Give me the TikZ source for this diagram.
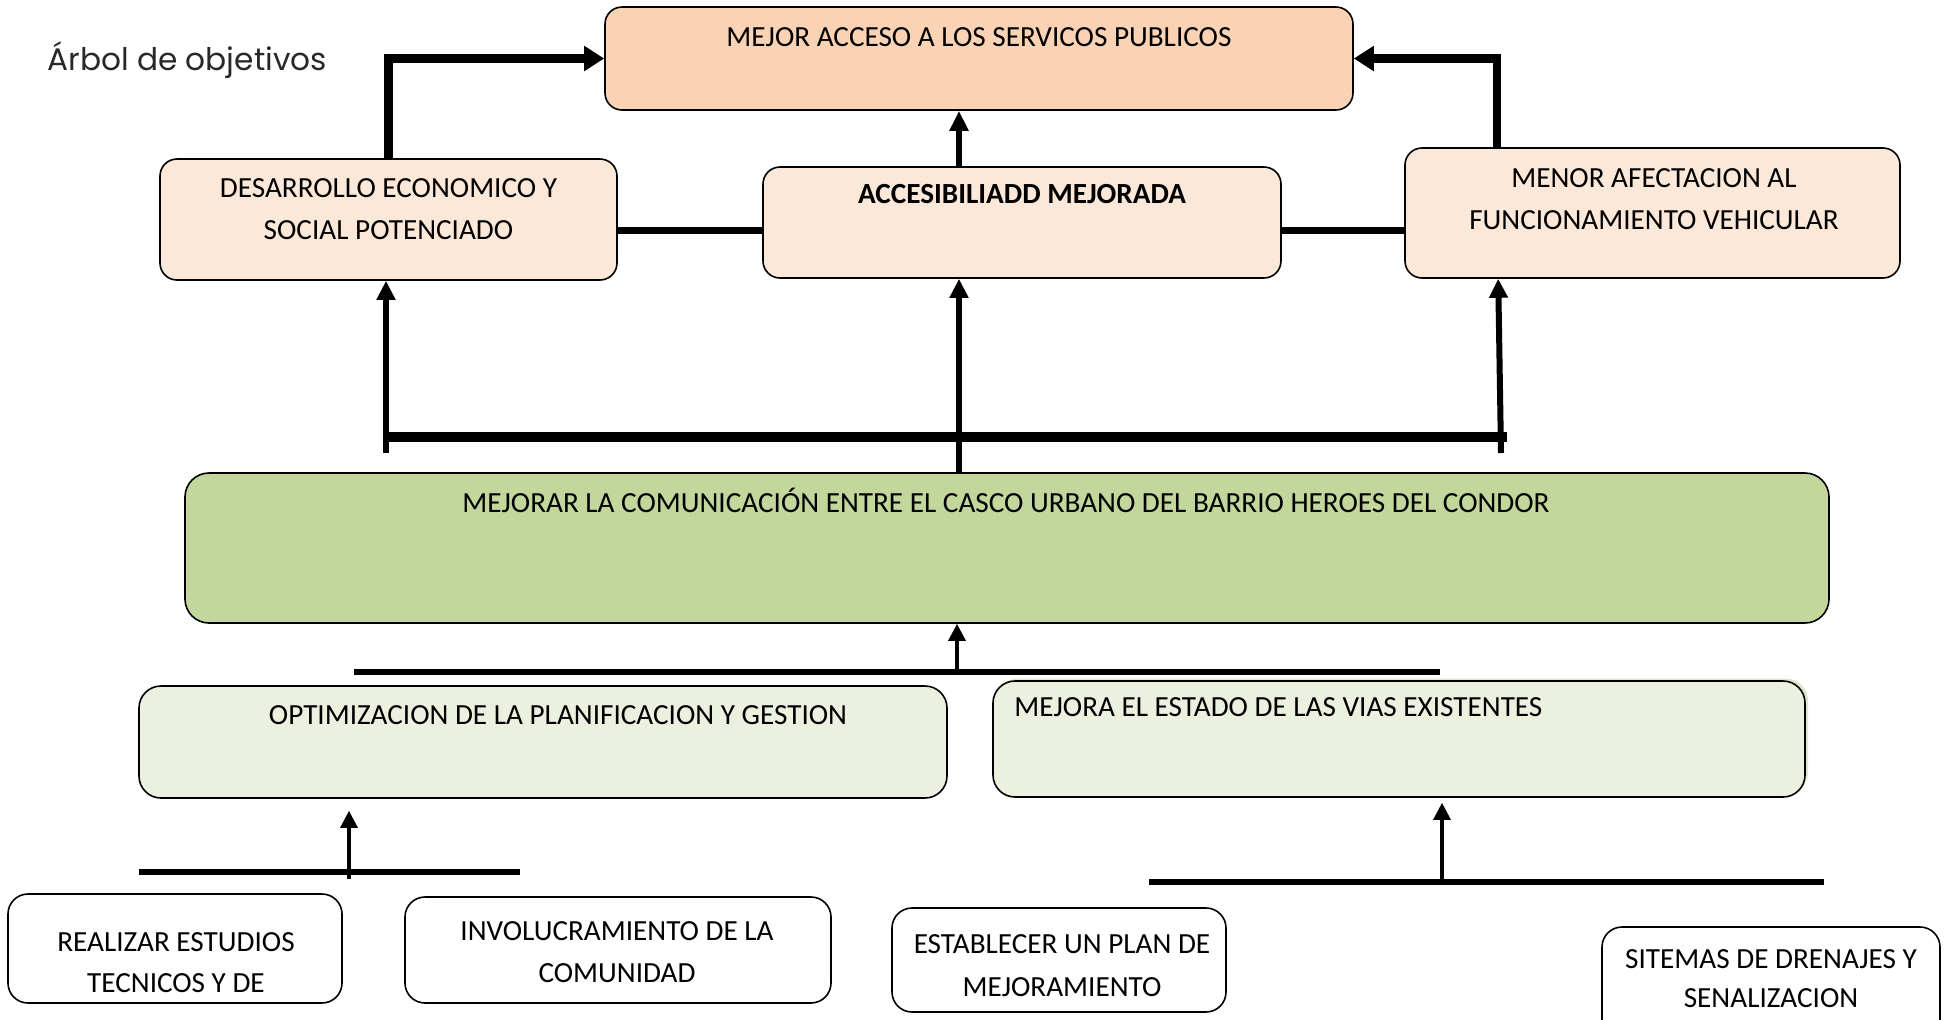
\documentclass[tikz,border=0pt]{standalone}
\usepackage{fontspec}
\setmainfont{Carlito}
\newfontfamily\titlefont{Poppins}
\usetikzlibrary{arrows.meta,calc}
\definecolor{peach}{RGB}{249,211,180}
\definecolor{peachlt}{RGB}{252,232,217}
\definecolor{olive}{RGB}{195,214,155}
\definecolor{olivelt}{RGB}{235,241,222}
\definecolor{oliveshadow}{RGB}{222,232,200}
\begin{document}
\begin{tikzpicture}[x=0.5pt,y=-0.5pt,
  box/.style={draw=black, line width=0.8pt, rounded corners=8.5pt, inner sep=0pt},
  txt/.style={font=\fontsize{14.6}{17}\selectfont, anchor=base, inner sep=0pt},
  thickarr/.style={line width=4.25pt, -{Triangle[length=10pt,width=12pt]}},
  midarr/.style={line width=3pt, -{Triangle[length=10pt,width=9pt]}},
  vup/.style={line width=3pt, -{Triangle[length=9.5pt,width=9pt]}},
  thinarr/.style={line width=1.6pt, -{Triangle[length=8.5pt,width=8.5pt]}},
  conn/.style={line width=3.5pt},
  bar/.style={line width=5pt},
  barthin/.style={line width=3pt}]
\useasboundingbox (0,0) rectangle (1949,1019);

% title
\node[anchor=base west, inner sep=0pt, text={rgb,255:red,40;green,40;blue,40},
      font=\titlefont\fontsize{15.6}{18}\selectfont] (title) at (47,70.7) {Árbol de objetivos};

% top level
\node[box, fill=peach, minimum width=374pt, minimum height=51.5pt] (mej) at (979,58.5) {};
\node[txt] (mejt) at (979,46.4) {MEJOR ACCESO A LOS SERVICOS PUBLICOS};

% second level
\node[box, fill=peachlt, minimum width=228.5pt, minimum height=60.5pt] (des) at (388.5,219.5) {};
\node[txt] (dest1) at (388.5,197.4) {DESARROLLO ECONOMICO Y};
\node[txt] (dest2) at (388.5,239.4) {SOCIAL POTENCIADO};

\node[box, fill=peachlt, minimum width=259pt, minimum height=55.5pt] (acc) at (1022,222.5) {};
\node[txt, font=\fontsize{14.6}{17}\selectfont\bfseries] (acct) at (1022,203.4) {ACCESIBILIADD MEJORADA};

\node[box, fill=peachlt, minimum width=247.5pt, minimum height=65pt] (men) at (1652.5,213) {};
\node[txt] (ment1) at (1654,187.4) {MENOR AFECTACION AL};
\node[txt] (ment2) at (1654,229.4) {FUNCIONAMIENTO VEHICULAR};

% central objective
\node[box, fill=olive, rounded corners=12pt, minimum width=822pt, minimum height=75pt] (grn) at (1007,548) {};
\node[txt] (grnt) at (1006,512.4) {MEJORAR LA COMUNICACIÓN ENTRE EL CASCO URBANO DEL BARRIO HEROES DEL CONDOR};

% means
\node[box, fill=olivelt, rounded corners=11pt, minimum width=404pt, minimum height=56pt] (opt) at (543,742) {};
\node[txt] (optt) at (558,724.4) {OPTIMIZACION DE LA PLANIFICACION Y GESTION};

\node[fill=oliveshadow, rounded corners=11pt, inner sep=0pt, minimum width=406pt, minimum height=58pt] (viass) at (1402,736.5) {};
\node[box, fill=olivelt, rounded corners=11pt, minimum width=406pt, minimum height=58pt] (vias) at (1399,739) {};
\node[txt, anchor=base west] (viast) at (1014,716.4) {MEJORA EL ESTADO DE LAS VIAS EXISTENTES};

% actions
\node[box, fill=white, rounded corners=10pt, minimum width=167pt, minimum height=54.5pt] (rea) at (175,948.5) {};
\node[txt] (reat1) at (176,951.4) {REALIZAR ESTUDIOS};
\node[txt] (reat2) at (176,992.4) {TECNICOS Y DE};

\node[box, fill=white, rounded corners=10pt, minimum width=213pt, minimum height=53pt] (inv) at (618,950) {};
\node[txt] (invt1) at (617,940.4) {INVOLUCRAMIENTO DE LA};
\node[txt] (invt2) at (617,982.4) {COMUNIDAD};

\node[box, fill=white, rounded corners=10pt, minimum width=167pt, minimum height=52pt] (est) at (1059,960) {};
\node[txt] (estt1) at (1062,953.4) {ESTABLECER UN PLAN DE};
\node[txt] (estt2) at (1062,996.4) {MEJORAMIENTO};

\node[box, fill=white, rounded corners=10pt, minimum width=169pt, minimum height=56.5pt] (sit) at (1771,983.5) {};
\node[txt] (sitt1) at (1771,968.4) {SITEMAS DE DRENAJES Y};
\node[txt] (sitt2) at (1771,1007.4) {SENALIZACION};

% helper coordinates
\coordinate (hl) at (0,230);
\coordinate (mx) at (959,0);
\coordinate (b1l) at (387,437);
\coordinate (b1r) at (1507,437);
\coordinate (v1b) at (386,453);
\coordinate (v3b) at (1501,453);
\coordinate (b2l) at (354,672);
\coordinate (b2r) at (1440,672);
\coordinate (b2m) at (957,672);
\coordinate (b3l) at (139,872);
\coordinate (b3r) at (520,872);
\coordinate (b3m) at (349,879);
\coordinate (b4l) at (1149,882);
\coordinate (b4r) at (1824,882);
\coordinate (b4m) at (1442,882);

% connectors, top
\draw[thickarr] (des.north) |- (mej.west);
\draw[thickarr] ([xshift=46.5pt]men.north west) |- (mej.east);
\draw[midarr] (acc.north -| mx) -- (mej.south -| mx);
\draw[conn] (des.east |- hl) -- (acc.west |- hl);
\draw[conn] (acc.east |- hl) -- (men.west |- hl);

% bus 1
\draw[bar] (b1l) -- (b1r);
\draw[vup] (v1b) -- (v1b |- des.south);
\draw[vup] (v3b) -- ([xshift=47pt]men.south west);
\draw[vup] (grn.north -| mx) -- (acc.south -| mx);

% bus 2
\draw[barthin] (b2l) -- (b2r);
\draw[thinarr] (b2m) -- (b2m |- grn.south);

% bus 3
\draw[barthin] (b3l) -- (b3r);
\draw[thinarr] (b3m) -- ([yshift=-6pt]b3m |- opt.south);

% bus 4
\draw[barthin] (b4l) -- (b4r);
\draw[thinarr] (b4m) -- ([yshift=-2.5pt]b4m |- vias.south);
\end{tikzpicture}
\end{document}
